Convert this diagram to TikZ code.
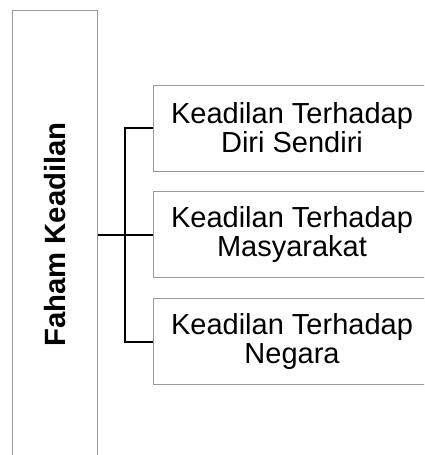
\documentclass[tikz,border=0pt]{standalone}
\usepackage{fontspec}
\setmainfont{Liberation Sans}
\begin{document}
\begin{tikzpicture}[x=1pt,y=-1pt,
  boxstyle/.style={draw=black!40, line width=1pt, inner sep=0pt},
  subbox/.style={boxstyle, minimum width=278pt, minimum height=86pt, align=center,
    font=\fontsize{29}{29}\selectfont},
  link/.style={draw=black, line width=2pt}]
\useasboundingbox (0,0) rectangle (424,455);
\clip (0,0) rectangle (424,455);
\node[boxstyle, minimum width=85pt, minimum height=448pt, anchor=north west] (main) at (12,10) {};
\node[rotate=90, font=\bfseries\fontsize{29.3}{31}\selectfont] (title) at (main.center) {Faham Keadilan};
\node[subbox] (b1) at (292,128) {Keadilan Terhadap\\Diri Sendiri};
\node[subbox] (b2) at (292,234.5) {Keadilan Terhadap\\Masyarakat};
\node[subbox] (b3) at (292,341.5) {Keadilan Terhadap\\Negara};
\draw[link] (main.east) -- (b2.west);
\draw[link] (b1.west) -- ++(-28,0) |- (b3.west);
\end{tikzpicture}
\end{document}
